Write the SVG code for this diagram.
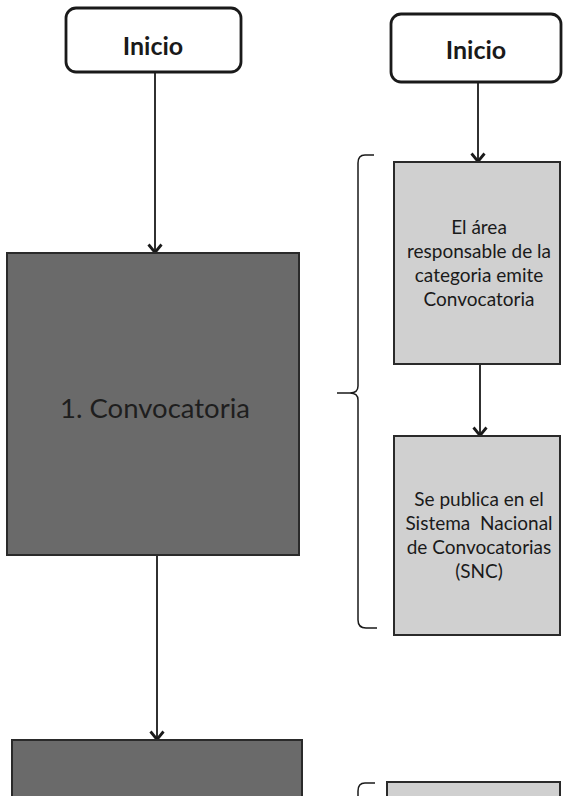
<svg xmlns="http://www.w3.org/2000/svg" width="563" height="796" viewBox="0 0 563 796">
<style>
.start{fill:#ffffff;stroke:#1a1a1a;stroke-width:2.8}
.dark{fill:#6a6a6a;stroke:#2a2a2a;stroke-width:2}
.light{fill:#d0d0d0;stroke:#2a2a2a;stroke-width:2}
.conn{fill:none;stroke:#1a1a1a;stroke-width:1.8}
.brace{fill:none;stroke:#1a1a1a;stroke-width:1.5}
.t{font-family:Lato,"Open Sans","Liberation Sans",sans-serif;fill:#1a1a1a;text-anchor:middle}
.tb{font-weight:bold;font-size:25px}
.ts{font-size:19px}
.tl{font-size:27.5px;fill:#1e1e1e}
</style>
<defs>
<marker id="arr" markerWidth="11" markerHeight="16" refX="10" refY="8" orient="auto" markerUnits="userSpaceOnUse" viewBox="0 0 11 16">
<path d="M1.5,1.5 L9.5,8 L1.5,14.5" fill="none" stroke="#1a1a1a" stroke-width="2.8"/>
</marker>
</defs>
<g id="connectors">
<line class="conn" x1="155" y1="72" x2="155" y2="253" marker-end="url(#arr)"/>
<line class="conn" x1="157" y1="555" x2="157" y2="740" marker-end="url(#arr)"/>
<line class="conn" x1="478" y1="82" x2="478" y2="162" marker-end="url(#arr)"/>
<line class="conn" x1="480" y1="364" x2="480" y2="436" marker-end="url(#arr)"/>
</g>
<g id="inicio-left">
<rect class="start" x="66" y="8" width="175" height="64" rx="10"/>
<text class="t tb" x="153" y="55">Inicio</text>
</g>
<g id="inicio-right">
<rect class="start" x="391" y="14" width="170" height="68" rx="10"/>
<text class="t tb" x="476" y="59">Inicio</text>
</g>
<g id="convocatoria">
<rect class="dark" x="7" y="253" width="292" height="302"/>
<text class="t tl" x="155" y="418">1. Convocatoria</text>
</g>
<g id="emite">
<rect class="light" x="394" y="162" width="166" height="202"/>
<text class="t ts" x="479" y="234">El área</text>
<text class="t ts" x="479" y="258">responsable de la</text>
<text class="t ts" x="479" y="282">categoria emite</text>
<text class="t ts" x="479" y="306">Convocatoria</text>
</g>
<g id="publica">
<rect class="light" x="394" y="436" width="166" height="199"/>
<text class="t ts" x="479" y="506">Se publica en el</text>
<text class="t ts" x="479" y="530" xml:space="preserve">Sistema  Nacional</text>
<text class="t ts" x="479" y="554">de Convocatorias</text>
<text class="t ts" x="479" y="578">(SNC)</text>
</g>
<g id="brace">
<path class="brace" d="M374,155 L365,155 Q358,155 358,163 L358,386 Q358,393 350,393 L337,393 M350,393 Q358,393 358,400 L358,620 Q358,628 366,628 L377,628"/>
</g>
<g id="paso2">
<rect class="dark" x="12" y="740" width="290" height="70"/>
</g>
<g id="brace2">
<path class="brace" d="M375,783 L365,783 Q358,783 358,791 L358,800"/>
</g>
<g id="box-bottom-right">
<rect class="light" x="387" y="782" width="173" height="30"/>
</g>
</svg>
